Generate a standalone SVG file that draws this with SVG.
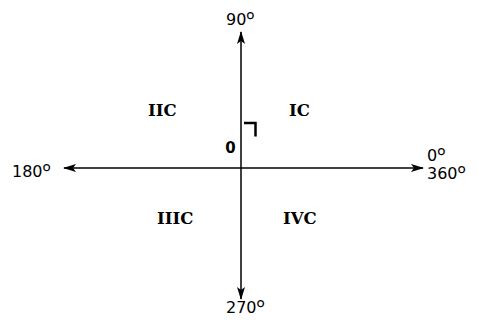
<svg xmlns="http://www.w3.org/2000/svg" width="478" height="323" viewBox="0 0 478 323">
<style>
.lbl{font-family:"DejaVu Sans",Verdana,sans-serif;font-size:16px;fill:#000}
.d{font-family:"Open Sans","Noto Sans",sans-serif;font-size:22px}
.q{font-family:"DejaVu Serif","Liberation Serif",serif;font-size:16.5px;font-weight:bold;fill:#000}
.ax{stroke:#000;stroke-width:1.5;fill:none}
</style>
<defs>
<marker id="ah" viewBox="0 0 13 8" refX="12" refY="4" markerWidth="13" markerHeight="8" markerUnits="userSpaceOnUse" orient="auto">
<path d="M0,0 L13,4 L0,8 L3,4 Z" fill="#000"/>
</marker>
</defs>
<rect width="478" height="323" fill="#fff"/>
<g id="connectors">
<line class="ax" x1="241" y1="168" x2="241" y2="32" marker-end="url(#ah)"/>
<line class="ax" x1="241" y1="168" x2="241" y2="299" marker-end="url(#ah)"/>
<line class="ax" x1="241" y1="168" x2="64" y2="168" marker-end="url(#ah)"/>
<line class="ax" x1="241" y1="168" x2="423" y2="168" marker-end="url(#ah)"/>
</g>
<g id="n90"><text class="lbl" x="226" y="25">90<tspan class="d" dy="3">º</tspan></text></g>
<g id="n180"><text class="lbl" x="12" y="177">180<tspan class="d" dy="3">º</tspan></text></g>
<g id="n0"><text class="lbl" x="427" y="161">0<tspan class="d" dy="3">º</tspan></text><text class="lbl" x="427" y="179">360<tspan class="d" dy="3">º</tspan></text></g>
<g id="n270"><text class="lbl" x="226" y="313">270<tspan class="d" dy="3">º</tspan></text></g>
<g id="IIC"><text class="q" x="148" y="116">IIC</text></g>
<g id="IC"><text class="q" x="289" y="116">IC</text></g>
<g id="IIIC"><text class="q" x="157" y="224">IIIC</text></g>
<g id="IVC"><text class="q" x="283" y="224">IVC</text></g>
<g id="angle">
<text x="230.5" y="153" text-anchor="middle" style="font-family:'DejaVu Sans',sans-serif;font-size:15px;font-weight:bold">0</text>
<path d="M244,123 H255.5 V136.5" stroke="#000" stroke-width="2.5" fill="none"/>
</g>
</svg>
